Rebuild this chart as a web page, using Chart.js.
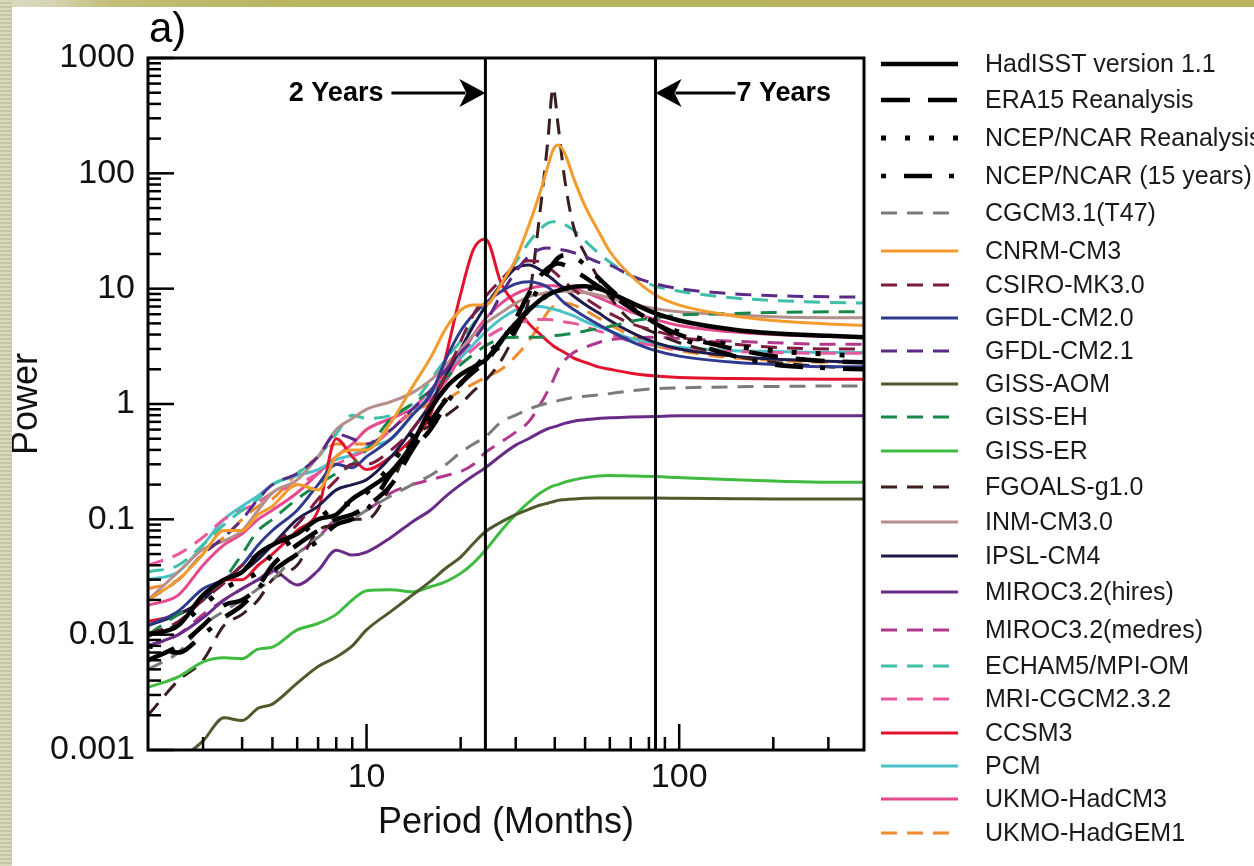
<!DOCTYPE html>
<html>
<head>
<meta charset="utf-8">
<script src="https://cdn.jsdelivr.net/npm/chart.js@4.4.1/dist/chart.umd.min.js"></script>
<style>
  html, body { margin: 0; padding: 0; background: #fff; overflow: hidden; }
  #wrap { position: relative; width: 1254px; height: 866px; }
  #topbar { position: absolute; left: 0; top: 0; width: 1254px; height: 7px;
    background: linear-gradient(to right, #dcdcc6 0px, #d6d4b4 50px, #c2be78 110px, #b9b45e 300px, #b8b35c 100%); }
  #leftbar { position: absolute; left: 0; top: 0; width: 12px; height: 866px;
    background: repeating-linear-gradient(to bottom, #d9d8bd 0px, #d9d8bd 2px, #c7c6a3 2px, #c7c6a3 4px); }
  canvas { position: absolute; left: 0; top: 0; }
</style>
</head>
<body>
<div id="wrap">
  <canvas id="grafico" width="1254" height="866"></canvas>
  <div id="topbar"></div>
  <div id="leftbar"></div>
</div>
<script>
document.addEventListener("DOMContentLoaded", () => {
  const FONT = "'Liberation Sans', Arial, Helvetica, sans-serif";

  // periodo en meses (eje x)
  const periods = [2, 2.5, 3, 3.5, 4, 4.5, 5, 6, 7, 8, 9, 10, 12, 14, 16, 18, 20, 22, 24, 27,
    30, 33, 36, 38, 39.5, 41, 43, 46, 50, 55, 60, 70, 84, 100, 150, 200, 300, 390];

  // potencia de cada serie
  const hadisst = [0.01, 0.012, 0.022, 0.03, 0.035, 0.05, 0.06, 0.075, 0.1, 0.11, 0.15, 0.18, 0.26, 0.45, 0.9, 1.4, 1.8, 2.1, 2.4, 3.6,
    5, 6.5, 8, 8.8, 9.3, 9.6, 10, 10.4, 10.5, 10, 9.2, 7.6, 6.1, 5.3, 4.4, 4.1, 3.9, 3.8];
  const era15 = [0.006, 0.008, 0.012, 0.018, 0.02, 0.026, 0.04, 0.06, 0.08, 0.1, 0.11, 0.13, 0.2, 0.4, 0.7, 1.1, 1.5, 1.9, 2.3, 3.5,
    5.5, 9, 13, 15, 16, 16.5, 16, 14.5, 12.5, 10.5, 9, 6.8, 5, 4, 3, 2.6, 2.35, 2.3];
  const ncep = [0.01, 0.012, 0.018, 0.025, 0.03, 0.035, 0.05, 0.07, 0.1, 0.13, 0.14, 0.17, 0.3, 0.55, 0.8, 1.1, 1.5, 2.0, 2.6, 3.6,
    5, 6.5, 8, 8.8, 9.2, 9.5, 10, 10.3, 10.2, 9.6, 8.6, 6.8, 5.2, 4.2, 3.2, 2.9, 2.7, 2.6];
  const ncep15 = [0.008, 0.007, 0.01, 0.014, 0.018, 0.025, 0.035, 0.05, 0.065, 0.09, 0.1, 0.12, 0.25, 0.4, 0.6, 1.0, 1.5, 2.0, 2.6, 3.2,
    4.5, 7, 11, 14, 16.5, 18.5, 19.5, 19, 16, 12.5, 10, 7, 5, 3.8, 2.6, 2.2, 2.05, 2.0];
  const cgcm = [0.005, 0.007, 0.012, 0.016, 0.02, 0.025, 0.03, 0.05, 0.07, 0.09, 0.1, 0.12, 0.16, 0.2, 0.24, 0.3, 0.38, 0.45, 0.52, 0.7,
    0.8, 0.9, 0.98, 1.02, 1.05, 1.07, 1.1, 1.14, 1.17, 1.2, 1.23, 1.3, 1.36, 1.38, 1.41, 1.42, 1.43, 1.43];
  const cnrm = [0.02, 0.03, 0.05, 0.08, 0.08, 0.11, 0.13, 0.2, 0.18, 0.35, 0.4, 0.4, 0.7, 1.4, 2.5, 4.6, 6.5, 7.2, 7.2, 11,
    18, 35, 70, 115, 160, 176, 150, 90, 52, 32, 21, 13, 8.8, 7.2, 5.8, 5.3, 4.95, 4.8];
  const csiro = [0.01, 0.013, 0.02, 0.028, 0.04, 0.05, 0.06, 0.09, 0.15, 0.22, 0.3, 0.3, 0.4, 0.6, 1.0, 1.8, 3.5, 6, 8.5, 12,
    16, 17.5, 17, 15.5, 14.2, 13, 11.5, 9.8, 8.3, 7, 6.1, 5.0, 4.3, 3.8, 3.3, 3.1, 3.0, 3.0];
  const gfdl20 = [0.012, 0.016, 0.025, 0.03, 0.04, 0.06, 0.08, 0.12, 0.2, 0.3, 0.28, 0.35, 0.5, 0.8, 1.2, 2.5, 4.3, 6, 7.5, 9.5,
    11, 11.5, 11, 10.3, 9.5, 8.5, 7.5, 6.6, 5.7, 4.9, 4.3, 3.5, 2.9, 2.6, 2.3, 2.2, 2.1, 2.1];
  const gfdl21 = [0.02, 0.03, 0.05, 0.07, 0.1, 0.15, 0.2, 0.25, 0.35, 0.55, 0.5, 0.45, 0.6, 0.9, 1.3, 2, 2.8, 3.6, 5, 9,
    14, 19, 22, 22.5, 22.3, 22, 21.5, 20.5, 19, 17, 16, 13, 11, 10, 9, 8.7, 8.5, 8.45];
  const gissAom = [0.0005, 0.0008, 0.0012, 0.0019, 0.0018, 0.0023, 0.0025, 0.0038, 0.0053, 0.0064, 0.008, 0.011, 0.016, 0.022, 0.029, 0.038, 0.047, 0.062, 0.078, 0.095,
    0.11, 0.122, 0.133, 0.138, 0.142, 0.146, 0.148, 0.15, 0.152, 0.153, 0.153, 0.153, 0.153, 0.152, 0.151, 0.15, 0.15, 0.15];
  const gissEh = [0.01, 0.015, 0.02, 0.03, 0.05, 0.08, 0.1, 0.15, 0.2, 0.25, 0.3, 0.4, 0.75, 1.0, 1.3, 1.7, 2.2, 2.7, 3.2, 3.7,
    3.8, 3.8, 3.8, 3.85, 3.9, 3.95, 4.0, 4.1, 4.3, 4.5, 4.7, 5.2, 5.6, 5.9, 6.1, 6.2, 6.3, 6.3];
  const gissEr = [0.0035, 0.0043, 0.0058, 0.0063, 0.0062, 0.0075, 0.0078, 0.011, 0.0125, 0.015, 0.02, 0.024, 0.0245, 0.0235, 0.026, 0.029, 0.034, 0.042, 0.054, 0.08,
    0.11, 0.14, 0.17, 0.185, 0.195, 0.2, 0.21, 0.22, 0.23, 0.238, 0.24, 0.238, 0.235, 0.23, 0.22, 0.215, 0.21, 0.21];
  const fgoals = [0.002, 0.004, 0.006, 0.012, 0.015, 0.02, 0.03, 0.04, 0.08, 0.09, 0.1, 0.1, 0.2, 0.5, 0.65, 0.8, 1.0, 1.3, 1.6, 2.4,
    4.2, 8, 50, 190, 550, 260, 90, 34, 20, 12.5, 8.5, 5.3, 4.1, 3.4, 2.6, 2.3, 2.1, 2.0];
  const inm = [0.02, 0.035, 0.055, 0.065, 0.08, 0.12, 0.17, 0.22, 0.35, 0.6, 0.75, 0.9, 1.05, 1.25, 1.6, 2.2, 3, 4, 5, 6.2,
    7.5, 8.5, 9, 9.3, 9.4, 9.5, 9.5, 9.4, 9.2, 8.8, 8.3, 7.4, 6.7, 6.3, 5.9, 5.7, 5.6, 5.6];
  const ipsl = [0.012, 0.015, 0.02, 0.03, 0.035, 0.045, 0.06, 0.1, 0.13, 0.18, 0.2, 0.22, 0.35, 0.6, 1.0, 1.8, 3, 4.8, 7, 11,
    15, 16, 14.5, 13, 12, 11, 10, 8.6, 7.3, 6.2, 5.3, 4.2, 3.4, 3.0, 2.6, 2.45, 2.35, 2.3];
  const mirocHi = [0.008, 0.01, 0.014, 0.02, 0.025, 0.03, 0.036, 0.027, 0.036, 0.054, 0.049, 0.052, 0.07, 0.095, 0.12, 0.16, 0.2, 0.24, 0.28, 0.36,
    0.44, 0.5, 0.57, 0.61, 0.63, 0.65, 0.68, 0.71, 0.73, 0.75, 0.76, 0.77, 0.78, 0.79, 0.79, 0.79, 0.79, 0.79];
  const mirocMed = [0.008, 0.01, 0.015, 0.02, 0.025, 0.03, 0.035, 0.05, 0.07, 0.1, 0.11, 0.12, 0.17, 0.2, 0.22, 0.24, 0.26, 0.3, 0.38, 0.47,
    0.57, 0.7, 1.0, 1.3, 1.6, 2.0, 2.4, 2.8, 3.1, 3.4, 3.6, 3.75, 3.8, 3.7, 3.5, 3.4, 3.3, 3.3];
  const echam = [0.035, 0.04, 0.06, 0.09, 0.12, 0.15, 0.2, 0.25, 0.35, 0.55, 0.8, 0.75, 0.8, 1.0, 1.6, 2.5, 3.5, 5, 7, 11,
    17, 25, 33, 37, 38, 38, 36, 32, 26, 20.5, 17, 13, 10.5, 9.5, 8.3, 7.9, 7.6, 7.5];
  const mri = [0.04, 0.05, 0.07, 0.1, 0.12, 0.14, 0.17, 0.2, 0.25, 0.3, 0.35, 0.4, 0.6, 0.9, 1.3, 1.8, 2.4, 3, 3.7, 4.5,
    5.0, 5.3, 5.4, 5.4, 5.35, 5.3, 5.15, 5.0, 4.7, 4.3, 4.0, 3.5, 3.2, 3.0, 2.85, 2.8, 2.75, 2.75];
  const ccsm = [0.013, 0.015, 0.02, 0.03, 0.03, 0.04, 0.05, 0.08, 0.12, 0.5, 0.35, 0.27, 0.35, 0.5, 0.8, 2.7, 9, 22, 27, 11,
    7.2, 5, 4, 3.5, 3.2, 3, 2.8, 2.5, 2.3, 2.1, 2.0, 1.85, 1.75, 1.7, 1.66, 1.65, 1.64, 1.64];
  const pcm = [0.03, 0.035, 0.06, 0.1, 0.13, 0.16, 0.2, 0.24, 0.27, 0.33, 0.36, 0.42, 0.5, 0.8, 1.2, 1.8, 2.5, 3.3, 4.2, 5.5,
    6.5, 7.0, 7.0, 6.8, 6.65, 6.5, 6.2, 5.8, 5.2, 4.7, 4.3, 3.7, 3.3, 3.1, 2.9, 2.85, 2.8, 2.8];
  const hadcm3 = [0.018, 0.022, 0.04, 0.06, 0.075, 0.1, 0.12, 0.17, 0.25, 0.35, 0.45, 0.6, 0.75, 0.9, 1.1, 1.6, 2.6, 4, 5.5, 7.5,
    9, 10, 10.5, 10.6, 10.6, 10.5, 10.3, 10, 9.3, 8.4, 7.6, 6.3, 5.4, 4.8, 4.2, 4.0, 3.85, 3.8];
  const hadgem = [0.025, 0.03, 0.05, 0.07, 0.1, 0.13, 0.15, 0.25, 0.35, 0.45, 0.45, 0.45, 0.6, 0.85, 1.0, 1.1, 1.3, 1.5, 1.7, 2.0,
    2.6, 3.5, 5, 6.3, 7, 7.3, 7.5, 7.2, 6.5, 5.6, 4.9, 3.9, 3.2, 2.9, 2.5, 2.4, 2.3, 2.3];

  const seriesNames = ["HadISST version 1.1", "ERA15 Reanalysis", "NCEP/NCAR Reanalysis", "NCEP/NCAR (15 years)",
    "CGCM3.1(T47)", "CNRM-CM3", "CSIRO-MK3.0", "GFDL-CM2.0", "GFDL-CM2.1", "GISS-AOM", "GISS-EH", "GISS-ER",
    "FGOALS-g1.0", "INM-CM3.0", "IPSL-CM4", "MIROC3.2(hires)", "MIROC3.2(medres)", "ECHAM5/MPI-OM",
    "MRI-CGCM2.3.2", "CCSM3", "PCM", "UKMO-HadCM3", "UKMO-HadGEM1"];
  const seriesValues = [hadisst, era15, ncep, ncep15, cgcm, cnrm, csiro, gfdl20, gfdl21, gissAom, gissEh, gissEr,
    fgoals, inm, ipsl, mirocHi, mirocMed, echam, mri, ccsm, pcm, hadcm3, hadgem];
  const seriesColors = ["#000000", "#000000", "#000000", "#000000",
    "#7a7c7a", "#f39b2c", "#7d1c3c", "#2f3a8f", "#5a2a88", "#4f5a2c", "#17874a", "#3fbb3f",
    "#3a1e1e", "#b58f8c", "#1c1a4a", "#6a2a88", "#b0388e", "#40bfa8",
    "#e9579c", "#e1132f", "#4bc0c9", "#e6498d", "#f08a2e"];
  const D = [16, 10];
  const seriesDash = [[], [29, 18], [5, 19], [5, 18, 28, 17],
    D, [], D, [], D, [], D, [], D, [], [], [], D, D, D, [], [], [], D];
  const seriesWidth = [4.5, 4.5, 5, 4.5, 3, 3, 3, 3, 3, 3, 3, 3, 3, 3, 3, 3, 3, 3, 3, 3, 3, 3, 3];

  const xTicks = [10, 100];
  const yTicks = [0.001, 0.01, 0.1, 1, 10, 100, 1000];
  const markerPeriods = [24, 84];
  const markerLabels = ["2 Years", "7 Years"];
  const legendRowY = [64, 100, 138, 176, 213, 251, 285, 318, 351, 384, 417, 451, 487, 522, 556, 592, 630, 666, 699, 733, 766, 799, 833];

  const datasets = seriesNames.map((name, i) => ({
    label: name,
    data: periods.map((p, k) => ({ x: p, y: seriesValues[i][k] })),
    borderColor: seriesColors[i],
    borderDash: seriesDash[i],
    borderWidth: seriesWidth[i],
    pointRadius: 0,
    fill: false,
    cubicInterpolationMode: "monotone"
  }));

  function arrow(ctx, tipX, y, dir) {
    // dir = 1 apunta a la derecha, -1 a la izquierda
    ctx.beginPath();
    ctx.moveTo(tipX, y);
    ctx.lineTo(tipX - dir * 26, y - 14);
    ctx.lineTo(tipX - dir * 19, y);
    ctx.lineTo(tipX - dir * 26, y + 14);
    ctx.closePath();
    ctx.fill();
  }

  const decor = {
    id: "decor",
    afterDatasetsDraw(chart) {
      const { ctx, chartArea: a, scales: { x, y } } = chart;
      ctx.save();
      ctx.strokeStyle = "#000";
      ctx.fillStyle = "#000";
      ctx.setLineDash([]);

      // marcas interiores del eje x
      ctx.lineWidth = 2.5;
      for (let d = 0; d <= 2; d++) {
        for (let m = 1; m <= 9; m++) {
          const v = m * Math.pow(10, d);
          if (v <= 2 || v >= 390) continue;
          const px = x.getPixelForValue(v);
          const len = m === 1 ? 26 : 13;
          ctx.beginPath(); ctx.moveTo(px, a.bottom); ctx.lineTo(px, a.bottom - len); ctx.stroke();
        }
      }
      // marcas interiores del eje y
      for (let d = -3; d <= 3; d++) {
        for (let m = 1; m <= 9; m++) {
          const v = m * Math.pow(10, d);
          if (v > 1000) continue;
          const py = y.getPixelForValue(v);
          const len = m === 1 ? 26 : 13;
          ctx.beginPath(); ctx.moveTo(a.left, py); ctx.lineTo(a.left + len, py); ctx.stroke();
        }
      }

      // lineas verticales de 2 y 7 anios
      ctx.lineWidth = 3;
      markerPeriods.forEach(p => {
        const px = x.getPixelForValue(p);
        ctx.beginPath(); ctx.moveTo(px, a.top); ctx.lineTo(px, a.bottom); ctx.stroke();
      });

      // flechas y textos
      const ay = 93;
      const p2 = x.getPixelForValue(markerPeriods[0]);
      const p7 = x.getPixelForValue(markerPeriods[1]);
      ctx.font = "bold 27px " + FONT;
      ctx.textBaseline = "middle";
      ctx.textAlign = "right";
      ctx.fillText(markerLabels[0], p2 - 102, ay + 1);
      ctx.beginPath(); ctx.moveTo(p2 - 94, ay); ctx.lineTo(p2 - 20, ay); ctx.stroke();
      arrow(ctx, p2, ay, 1);
      ctx.textAlign = "left";
      ctx.fillText(markerLabels[1], p7 + 81, ay + 1);
      ctx.beginPath(); ctx.moveTo(p7 + 20, ay); ctx.lineTo(p7 + 80, ay); ctx.stroke();
      arrow(ctx, p7, ay, -1);

      // marco
      ctx.lineWidth = 3;
      ctx.strokeRect(a.left, a.top, a.right - a.left, a.bottom - a.top);

      // etiqueta del panel
      ctx.font = "42px " + FONT;
      ctx.textAlign = "left";
      ctx.textBaseline = "alphabetic";
      ctx.fillText("a)", a.left + 1, 42);

      // leyenda
      ctx.font = "25px " + FONT;
      ctx.textBaseline = "middle";
      chart.data.datasets.forEach((ds, i) => {
        const ly = legendRowY[i];
        ctx.strokeStyle = ds.borderColor;
        ctx.lineWidth = ds.borderWidth;
        ctx.setLineDash(ds.borderDash);
        ctx.beginPath(); ctx.moveTo(a.right + 17, ly); ctx.lineTo(a.right + 94, ly); ctx.stroke();
        ctx.setLineDash([]);
        ctx.fillStyle = "#1a1a1a";
        ctx.fillText(ds.label, a.right + 121, ly + 1);
      });
      ctx.restore();
    }
  };

  const ctx = document.getElementById("grafico").getContext("2d");
  new Chart(ctx, {
    type: "line",
    data: { datasets },
    plugins: [decor],
    options: {
      responsive: false,
      animation: false,
      devicePixelRatio: 1,
      layout: { padding: { left: 0, top: 58, right: 390, bottom: 0 } },
      plugins: { legend: { display: false }, tooltip: { enabled: false } },
      scales: {
        x: {
          type: "logarithmic",
          min: 2,
          max: 390,
          bounds: "data",
          grid: { display: false, drawTicks: false },
          border: { display: false },
          afterBuildTicks: s => { s.ticks = xTicks.map(v => ({ value: v })); },
          afterFit: s => { s.height = 116; },
          ticks: {
            autoSkip: false, maxRotation: 0, padding: 7, color: "#111",
            font: { size: 34, family: FONT },
            callback: v => String(v)
          },
          title: {
            display: true, text: "Period (Months)", color: "#111",
            font: { size: 36, family: FONT }, padding: { top: 0, bottom: 21 }
          }
        },
        y: {
          type: "logarithmic",
          min: 0.001,
          max: 1000,
          bounds: "data",
          grid: { display: false, drawTicks: false },
          border: { display: false },
          afterBuildTicks: s => { s.ticks = yTicks.map(v => ({ value: v })); },
          afterFit: s => { s.width = 148; },
          ticks: {
            autoSkip: false, padding: 13, color: "#111",
            font: { size: 34, family: FONT },
            callback: v => String(v)
          },
          title: {
            display: true, text: "Power", color: "#111",
            font: { size: 36, family: FONT }, padding: { top: 5, bottom: 0 }
          }
        }
      }
    }
  });
});
</script>
</body>
</html>
